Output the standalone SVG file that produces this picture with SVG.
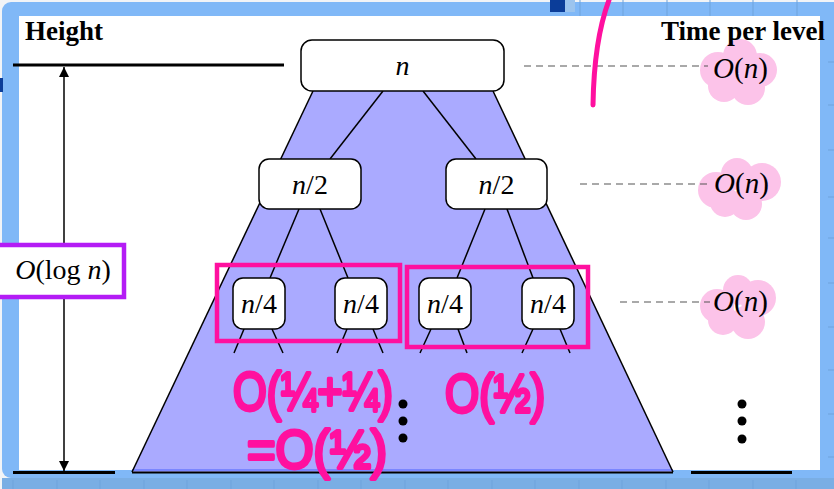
<svg xmlns="http://www.w3.org/2000/svg" width="834" height="489" viewBox="0 0 834 489">
<style>
.node{fill:#fff;stroke:#000;stroke-width:1.5}
.edge{stroke:#000;stroke-width:1.5;fill:none}
.math{font-family:"Liberation Serif","DejaVu Serif",serif;font-size:28px;fill:#000}
.big{font-size:29px}
.it{font-style:italic}
.head{font-family:"Liberation Serif","DejaVu Serif",serif;font-size:27px;font-weight:bold;fill:#000}
.dash{stroke:#555;stroke-width:1.2;stroke-dasharray:7 5}
.blob{fill:#fcc3e9}
.pink{font-family:"Liberation Sans","DejaVu Sans",sans-serif;font-weight:normal;font-size:36px;fill:#ff109f;stroke:#ff109f;stroke-width:2.5;stroke-linejoin:round}
.grid{stroke:#6ea3dc;stroke-width:1}
.dot{fill:#000}
</style>
<defs>
<marker id="ah" viewBox="0 0 10 16" refX="10" refY="8" markerWidth="10" markerHeight="16" markerUnits="userSpaceOnUse" orient="auto-start-reverse">
<path d="M0,3 L10,8 L0,13 z" fill="#000"/>
</marker>
</defs>
<!-- frame -->
<rect x="0" y="0" width="834" height="489" fill="#f2f4f7"/>
<rect x="2" y="2" width="850" height="476" rx="9" fill="#80b8f7"/>
<rect x="2" y="478" width="832" height="11" fill="#7aaee4"/>
<g class="grid">
<line x1="580" y1="0" x2="580" y2="16"/><line x1="623" y1="0" x2="623" y2="16"/><line x1="667" y1="0" x2="667" y2="16"/><line x1="710" y1="0" x2="710" y2="16"/><line x1="753" y1="0" x2="753" y2="16"/><line x1="797" y1="0" x2="797" y2="16"/>
<line x1="828" y1="62" x2="834" y2="62"/><line x1="828" y1="105" x2="834" y2="105"/><line x1="828" y1="150" x2="834" y2="150"/><line x1="828" y1="197" x2="834" y2="197"/><line x1="828" y1="238" x2="834" y2="238"/><line x1="828" y1="283" x2="834" y2="283"/><line x1="828" y1="327" x2="834" y2="327"/><line x1="828" y1="370" x2="834" y2="370"/><line x1="828" y1="414" x2="834" y2="414"/><line x1="828" y1="457" x2="834" y2="457"/>
<line x1="13" y1="480" x2="13" y2="489"/><line x1="57" y1="480" x2="57" y2="489"/><line x1="100" y1="480" x2="100" y2="489"/><line x1="144" y1="480" x2="144" y2="489"/><line x1="187" y1="480" x2="187" y2="489"/><line x1="231" y1="480" x2="231" y2="489"/><line x1="274" y1="480" x2="274" y2="489"/><line x1="318" y1="480" x2="318" y2="489"/><line x1="361" y1="480" x2="361" y2="489"/><line x1="405" y1="480" x2="405" y2="489"/><line x1="448" y1="480" x2="448" y2="489"/><line x1="492" y1="480" x2="492" y2="489"/><line x1="535" y1="480" x2="535" y2="489"/><line x1="579" y1="480" x2="579" y2="489"/><line x1="622" y1="480" x2="622" y2="489"/><line x1="666" y1="480" x2="666" y2="489"/><line x1="709" y1="480" x2="709" y2="489"/><line x1="753" y1="480" x2="753" y2="489"/><line x1="796" y1="480" x2="796" y2="489"/>
</g>
<rect x="550" y="0" width="15" height="12" fill="#0b3d99"/>
<rect x="565" y="0" width="10" height="12" fill="#9cc4ee"/>
<rect x="0" y="78" width="3" height="14" fill="#0b3d99"/>
<rect x="19" y="16" width="801" height="454" fill="#fff"/>

<!-- trapezoid -->
<polygon points="313,91 493,91 673,472 132,472" fill="#aaaaff"/>
<line x1="132" y1="470" x2="673" y2="470" stroke="#7a86ff" stroke-width="2"/>
<line x1="132" y1="472.5" x2="673" y2="472.5" stroke="#000" stroke-width="2"/>

<!-- time per level blobs -->
<g class="blob">
<circle cx="718" cy="70" r="18"/><circle cx="740" cy="56" r="17"/><circle cx="760" cy="70" r="17"/><circle cx="748" cy="88" r="17"/><circle cx="724" cy="86" r="16"/>
<circle cx="716" cy="190" r="18"/><circle cx="737" cy="174" r="16"/><circle cx="762" cy="182" r="19"/><circle cx="746" cy="204" r="16"/><circle cx="725" cy="202" r="15"/>
<circle cx="717" cy="306" r="17"/><circle cx="738" cy="290" r="15"/><circle cx="758" cy="298" r="18"/><circle cx="748" cy="322" r="17"/><circle cx="723" cy="320" r="15"/>
</g>

<!-- headings -->
<text class="head" x="25" y="40">Height</text>
<text class="head" x="825" y="40" text-anchor="end">Time per level</text>

<!-- height bars and arrow -->
<g id="height-axis">
<line x1="13" y1="65" x2="284" y2="65" stroke="#000" stroke-width="3"/>
<line x1="13" y1="472.5" x2="115" y2="472.5" stroke="#000" stroke-width="3"/>
<line x1="691" y1="472.5" x2="792" y2="472.5" stroke="#000" stroke-width="3"/>
<line x1="64" y1="67" x2="64" y2="471" stroke="#000" stroke-width="1.5" marker-start="url(#ah)" marker-end="url(#ah)"/>
</g>

<g id="log-label">
<rect x="-3" y="245" width="127" height="52" fill="#fff" stroke="#b41cf5" stroke-width="4.5"/>
<text class="math" x="63" y="279" text-anchor="middle"><tspan class="it">O</tspan>(log<tspan class="it"> n</tspan>)</text>
</g>

<!-- connectors -->
<g id="connectors" class="edge">
<line x1="313" y1="91" x2="132" y2="472"/>
<line x1="493" y1="91" x2="673" y2="472"/>
<line x1="383" y1="91" x2="330" y2="159"/>
<line x1="423" y1="91" x2="476" y2="159"/>
<line x1="299" y1="209" x2="270" y2="278"/>
<line x1="320" y1="209" x2="348" y2="278"/>
<line x1="485" y1="209" x2="457" y2="278"/>
<line x1="507" y1="209" x2="533" y2="278"/>
<line x1="244" y1="329" x2="234" y2="353"/>
<line x1="272" y1="329" x2="283" y2="353"/>
<line x1="347" y1="329" x2="337" y2="353"/>
<line x1="373" y1="329" x2="383" y2="353"/>
<line x1="431" y1="329" x2="420" y2="353"/>
<line x1="458" y1="329" x2="467" y2="353"/>
<line x1="533" y1="329" x2="522" y2="353"/>
<line x1="560" y1="329" x2="570" y2="353"/>
</g>

<!-- nodes -->
<g id="node-root"><rect class="node" x="301" y="40" width="203" height="51" rx="11"/><text class="math it" x="402.5" y="75" text-anchor="middle">n</text></g>
<g id="node-n2-left"><rect class="node" x="259" y="159" width="102" height="50" rx="10"/><text class="math" x="310" y="194" text-anchor="middle"><tspan class="it">n</tspan>/2</text></g>
<g id="node-n2-right"><rect class="node" x="446" y="159" width="101" height="50" rx="10"/><text class="math" x="496.5" y="194" text-anchor="middle"><tspan class="it">n</tspan>/2</text></g>
<g id="node-n4-1"><rect class="node" x="233" y="278" width="52" height="51" rx="10"/><text class="math" x="259" y="313" text-anchor="middle"><tspan class="it">n</tspan>/4</text></g>
<g id="node-n4-2"><rect class="node" x="335" y="278" width="52" height="51" rx="10"/><text class="math" x="361" y="313" text-anchor="middle"><tspan class="it">n</tspan>/4</text></g>
<g id="node-n4-3"><rect class="node" x="419" y="278" width="52" height="51" rx="10"/><text class="math" x="445" y="313" text-anchor="middle"><tspan class="it">n</tspan>/4</text></g>
<g id="node-n4-4"><rect class="node" x="522" y="278" width="52" height="51" rx="10"/><text class="math" x="548" y="313" text-anchor="middle"><tspan class="it">n</tspan>/4</text></g>

<!-- dots -->
<g id="dots-mid"><circle class="dot" cx="403" cy="404" r="4.5"/><circle class="dot" cx="403" cy="421" r="4.5"/><circle class="dot" cx="403" cy="438" r="4.5"/></g>
<g id="dots-right"><circle class="dot" cx="742" cy="404" r="4.5"/><circle class="dot" cx="742" cy="421" r="4.5"/><circle class="dot" cx="742" cy="439" r="4.5"/></g>

<!-- time per level -->
<g id="time-1">
<line class="dash" x1="524" y1="66" x2="708" y2="66"/>
<text class="math big" x="713" y="78"><tspan class="it">O</tspan>(<tspan class="it">n</tspan>)</text>
</g>
<g id="time-2">
<line class="dash" x1="580" y1="184" x2="710" y2="184"/>
<text class="math big" x="714" y="193"><tspan class="it">O</tspan>(<tspan class="it">n</tspan>)</text>
</g>
<g id="time-3">
<line class="dash" x1="620" y1="302" x2="710" y2="302"/>
<text class="math big" x="713" y="311"><tspan class="it">O</tspan>(<tspan class="it">n</tspan>)</text>
</g>

<!-- pink annotations -->
<g id="annotations" fill="none" stroke="#ff109f">
<rect x="217" y="265" width="183" height="76" stroke-width="4.5"/>
<rect x="407" y="267" width="181" height="80" stroke-width="4.5"/>
<path d="M609,0 Q594,40 593,105" stroke-width="5" stroke-linecap="round"/>
</g>
<g transform="translate(233,410) scale(1,1.5)"><text class="pink" x="0" y="0" textLength="160" lengthAdjust="spacingAndGlyphs">O(¼+¼)</text></g>
<g transform="translate(247,468) scale(1,1.5)"><text class="pink" x="0" y="0" textLength="140" lengthAdjust="spacingAndGlyphs">=O(½)</text></g>
<g transform="translate(445,412) scale(1,1.5)"><text class="pink" x="0" y="0" textLength="100" lengthAdjust="spacingAndGlyphs">O(½)</text></g>
</svg>
